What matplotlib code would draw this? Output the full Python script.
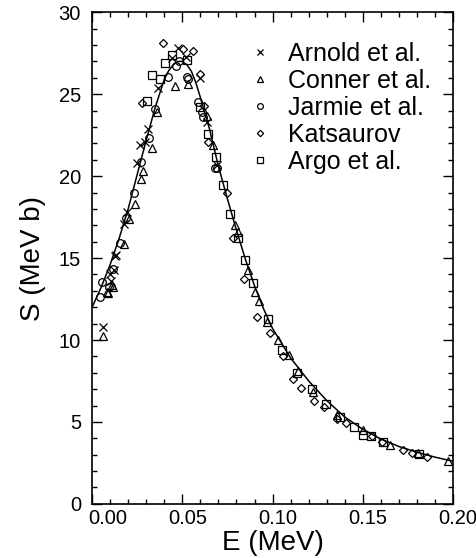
import numpy as np
import matplotlib
matplotlib.use('Agg')
import matplotlib.pyplot as plt
import matplotlib.transforms as mtransforms
from matplotlib.ticker import MultipleLocator

plt.rcParams['font.family'] = ['Liberation Sans', 'DejaVu Sans']

# fitted S-factor curve
curve_E = [0.0, 0.005, 0.01, 0.015, 0.02, 0.025, 0.03, 0.035, 0.04, 0.0425, 0.045, 0.0475,
           0.05, 0.0525, 0.055, 0.0575, 0.06, 0.065, 0.07, 0.075, 0.08, 0.085, 0.09, 0.095,
           0.10, 0.11, 0.12, 0.13, 0.14, 0.15, 0.16, 0.17, 0.18, 0.19, 0.20]
curve_S = [12.0, 13.2, 14.6, 16.2, 18.0, 20.1, 22.2, 24.2, 25.9, 26.45, 26.8, 27.0,
           27.0, 26.8, 26.4, 25.7, 24.8, 22.9, 20.6, 18.6, 16.7, 14.9, 13.3, 11.9,
           10.7, 8.9, 7.5, 6.3, 5.3, 4.55, 3.95, 3.5, 3.15, 2.85, 2.6]

# Arnold et al.
arnold_E = [0.0059, 0.0098, 0.0105, 0.012, 0.0129, 0.0135, 0.0175, 0.0194, 0.0247, 0.0265,
            0.0293, 0.0312, 0.0367, 0.0441, 0.0478, 0.052, 0.0598, 0.0635, 0.069]
arnold_S = [10.8, 14.0, 13.6, 14.3, 15.1, 15.2, 17.1, 17.8, 20.8, 21.9,
            22.1, 22.9, 25.4, 27.2, 27.8, 27.3, 26.0, 23.3, 20.7]

# Conner et al.
conner_E = [0.0059, 0.0083, 0.009, 0.011, 0.0118, 0.0178, 0.0207, 0.0236, 0.0273, 0.028,
            0.0332, 0.0362, 0.046, 0.0533, 0.0635, 0.0672, 0.0792, 0.081, 0.0866, 0.0905,
            0.0927, 0.0967, 0.103, 0.1093, 0.1143, 0.1226, 0.1355, 0.1502, 0.165, 0.1807, 0.1973]
conner_S = [10.25, 12.95, 12.85, 13.35, 13.25, 15.85, 17.4, 18.3, 19.8, 20.3,
            21.7, 23.9, 25.5, 25.65, 23.7, 21.9, 17.0, 16.6, 14.3, 12.9,
            12.4, 11.1, 10.0, 9.1, 8.1, 6.85, 5.4, 4.5, 3.6, 3.1, 2.6]

# Jarmie et al.
jarmie_E = [0.0044, 0.0055, 0.0092, 0.0115, 0.0157, 0.019, 0.0232, 0.027, 0.0314, 0.035,
            0.0423, 0.0465, 0.048, 0.0524, 0.0533, 0.0589, 0.0607, 0.0617, 0.0681, 0.069]
jarmie_S = [12.65, 13.55, 13.25, 14.35, 15.9, 17.45, 19.0, 20.85, 22.3, 24.1,
            26.05, 26.7, 27.0, 26.05, 25.95, 24.5, 23.9, 23.6, 20.5, 20.5]

# Katsaurov
kats_E = [0.0275, 0.0393, 0.0506, 0.0561, 0.0598, 0.062, 0.0644, 0.0746, 0.078, 0.0842,
          0.0914, 0.0986, 0.1057, 0.1111, 0.1155, 0.1231, 0.1286, 0.1355, 0.1407, 0.1549,
          0.1604, 0.1722, 0.1773, 0.1857]
kats_S = [24.45, 28.15, 27.75, 27.65, 26.25, 24.3, 22.1, 18.95, 16.2, 13.75,
          11.4, 10.45, 9.05, 7.65, 7.1, 6.3, 5.9, 5.2, 4.92, 4.15,
          3.75, 3.3, 3.08, 2.88]

# Argo et al.
argo_E = [0.0306, 0.0333, 0.0375, 0.0404, 0.0441, 0.0524, 0.0598, 0.0644, 0.0684, 0.0727,
          0.0764, 0.081, 0.0847, 0.0891, 0.0976, 0.105, 0.1133, 0.1216, 0.1296, 0.1373,
          0.1451, 0.1502, 0.1543, 0.161, 0.1813]
argo_S = [24.6, 26.2, 25.95, 26.9, 27.4, 27.1, 24.2, 22.6, 21.15, 19.45,
          17.7, 16.25, 14.9, 13.5, 11.3, 9.4, 8.0, 7.0, 6.1, 5.3,
          4.7, 4.2, 4.15, 3.75, 3.05]

x_ticks = [0.00, 0.05, 0.10, 0.15, 0.20]
x_ticklabels = ['0.00', '0.05', '0.10', '0.15', '0.20']
y_ticks = [0, 5, 10, 15, 20, 25, 30]

fig = plt.figure(figsize=(4.77, 5.58), dpi=100)
ax = fig.add_axes([0.193, 0.097, 0.757, 0.881])

ax.plot(curve_E, curve_S, 'k-', lw=1.1, zorder=2)

mk = dict(ls='none', mfc='none', mec='k', mew=0.9, zorder=3)
ax.plot(arnold_E, arnold_S, marker='x', ms=5.5, label='Arnold et al.', **mk)
ax.plot(conner_E, conner_S, marker='^', ms=6, label='Conner et al.', **mk)
ax.plot(jarmie_E, jarmie_S, marker='o', ms=5.5, label='Jarmie et al.', **mk)
ax.plot(kats_E, kats_S, marker='D', ms=4.3, label='Katsaurov', **mk)
ax.plot(argo_E, argo_S, marker='s', ms=5.5, label='Argo et al.', **mk)

ax.set_xlim(0, 0.20)
ax.set_ylim(0, 30)
ax.set_xticks(x_ticks)
ax.set_xticklabels(x_ticklabels)
ax.set_yticks(y_ticks)
ax.xaxis.set_minor_locator(MultipleLocator(0.01))
ax.yaxis.set_minor_locator(MultipleLocator(1))

ax.tick_params(which='both', direction='in', top=True, right=True, width=1.0)
ax.tick_params(which='major', length=7)
ax.tick_params(which='minor', length=3.5)
ax.tick_params(axis='x', labelsize=14.5, pad=4)
ax.tick_params(axis='y', labelsize=14.5, pad=8)
for sp in ax.spines.values():
    sp.set_linewidth(1.2)

# shift x tick labels slightly right like the original
for i, lab in enumerate(ax.get_xticklabels()):
    dx = 16 if i == 0 else 5
    lab.set_transform(lab.get_transform() + mtransforms.ScaledTranslation(dx / 100, 0, fig.dpi_scale_trans))

ax.set_xlabel('E (MeV)', fontsize=20, labelpad=1)
ax.set_ylabel('S (MeV b)', fontsize=20, labelpad=9)

leg = ax.legend(loc='upper left', bbox_to_anchor=(0.445, 0.94), frameon=False, fontsize=18,
                borderaxespad=0, borderpad=0, handlelength=0.6, handletextpad=0.8,
                labelspacing=0.12, markerscale=0.75)

fig.savefig('out.png', dpi=100)
